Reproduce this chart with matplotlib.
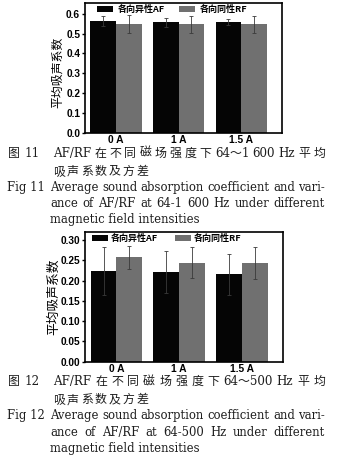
import matplotlib
matplotlib.use('Agg')
import matplotlib.pyplot as plt
import numpy as np

plt.rcParams['font.family'] = ['Liberation Sans', 'Noto Sans CJK SC']

W, H = 341, 461

fields = ['0 A', '1 A', '1.5 A']
series_names = ['各向异性AF', '各向同性RF']

# 64-1600 Hz
af_1600 = [0.565, 0.558, 0.558]
af_1600_err = [0.025, 0.022, 0.016]
rf_1600 = [0.549, 0.548, 0.548]
rf_1600_err = [0.043, 0.043, 0.043]

# 64-500 Hz
af_500 = [0.224, 0.221, 0.215]
af_500_err = [0.059, 0.052, 0.050]
rf_500 = [0.257, 0.244, 0.243]
rf_500_err = [0.029, 0.038, 0.040]

BLACK = '#050505'
GRAY = '#707070'
ERR = '#3a3a3a'
TXT = '#1e1e1e'

fig = plt.figure(figsize=(W / 100, H / 100), dpi=100)


def px_axes(left, top, right, bottom):
    return fig.add_axes([left / W, 1 - bottom / H, (right - left) / W, (bottom - top) / H])


def draw_bars(ax, af, af_err, rf, rf_err, ymax, yticks, fmt, leg_x, leg_kw, ylab):
    x = np.arange(len(fields))
    w = 0.41
    ax.bar(x - w / 2, af, w, color=BLACK, label=series_names[0], zorder=2)
    ax.bar(x + w / 2, rf, w, color=GRAY, label=series_names[1], zorder=2)
    ax.errorbar(x - w / 2, af, yerr=af_err, fmt='none', ecolor=ERR,
                elinewidth=0.6, capsize=1.3, capthick=0.6, zorder=3)
    ax.errorbar(x + w / 2, rf, yerr=rf_err, fmt='none', ecolor=ERR,
                elinewidth=0.6, capsize=1.3, capthick=0.6, zorder=3)
    ax.set_xlim(-0.5, 2.65)
    ax.set_ylim(0, ymax)
    ax.set_xticks(x)
    ax.set_xticklabels(fields, fontsize=7.4, fontweight='bold')
    ax.set_yticks(yticks)
    ax.set_yticklabels([fmt % v for v in yticks], fontsize=7.3, fontweight='bold')
    ax.tick_params(axis='x', length=0, pad=1.5)
    ax.tick_params(axis='y', direction='out', length=2.5, width=1, pad=0.6)
    for s in ax.spines.values():
        s.set_linewidth(1.2)
    lab_x, lab_y, lab_size = ylab
    ax.set_ylabel('平均吸声系数', fontsize=lab_size, family=['Noto Sans CJK SC'])
    ax.yaxis.set_label_coords(lab_x, lab_y)
    ax.legend(loc='center left', bbox_to_anchor=(leg_x, 0.95), ncol=2, frameon=False,
              borderaxespad=0, borderpad=0, handlelength=1.8, handleheight=0.7,
              prop={'family': ['Noto Sans CJK SC'], 'weight': 'bold', 'size': 6.5},
              **leg_kw)


ax1 = px_axes(84.5, 3, 282, 132.7)
draw_bars(ax1, af_1600, af_1600_err, rf_1600, rf_1600_err, 0.655,
          np.arange(0, 0.61, 0.1), '%.1f', 0.063,
          dict(handletextpad=0.55, columnspacing=1.5), (-0.104, 0.468, 8.6))

ax2 = px_axes(85, 232.3, 282.7, 361.7)
draw_bars(ax2, af_500, af_500_err, rf_500, rf_500_err, 0.319,
          np.arange(0, 0.301, 0.05), '%.2f', 0.035,
          dict(handletextpad=0.3, columnspacing=1.9), (-0.128, 0.504, 9.2))

renderer = fig.canvas.get_renderer()


def justify(words, x0, x1, y, va='baseline', **kw):
    texts = [fig.text(0, 1 - y / H, s, va=va, color=TXT, **kw) for s in words]
    widths = [t.get_window_extent(renderer).width for t in texts]
    gap = (x1 - x0 - sum(widths)) / (len(words) - 1)
    xx = x0
    for t, wd in zip(texts, widths):
        t.set_x(xx / W)
        xx += wd + gap


def put(s, x, y, va='baseline', **kw):
    fig.text(x / W, 1 - y / H, s, va=va, color=TXT, **kw)


# serif Latin with CJK fallback for the Chinese caption lines
cn = dict(family=['DejaVu Serif', 'Noto Sans CJK SC'], fontsize=8.6)
en = dict(family='DejaVu Serif', fontsize=8.4)


def caption(num, freq_cn, freq_en, y0):
    # Chinese caption, two lines
    put('图', 8, y0, va='center', **cn)
    put(num, 25, y0, va='center', **cn)
    justify(['AF/RF', '在', '不', '同', '磁', '场', '强', '度', '下']
            + freq_cn + ['Hz', '平', '均'],
            53, 325, y0, va='center', **cn)
    justify(list('吸声系数及方差'), 53, 148, y0 + 18, va='center', **cn)
    # English caption, three lines
    yb = y0 + 37.5
    put('Fig ' + num, 7, yb, **en)
    justify('Average sound absorption coefficient and vari-'.split(), 50, 325, yb, **en)
    justify(('ance of AF/RF at %s Hz under different' % freq_en).split(),
            50, 325, yb + 16.5, **en)
    put('magnetic field intensities', 50, yb + 32.5, **en)


caption('11', ['64～1', '600'], '64-1 600', 153.3)
caption('12', ['64～500'], '64-500', 381.8)

fig.savefig('out.png', dpi=100)
